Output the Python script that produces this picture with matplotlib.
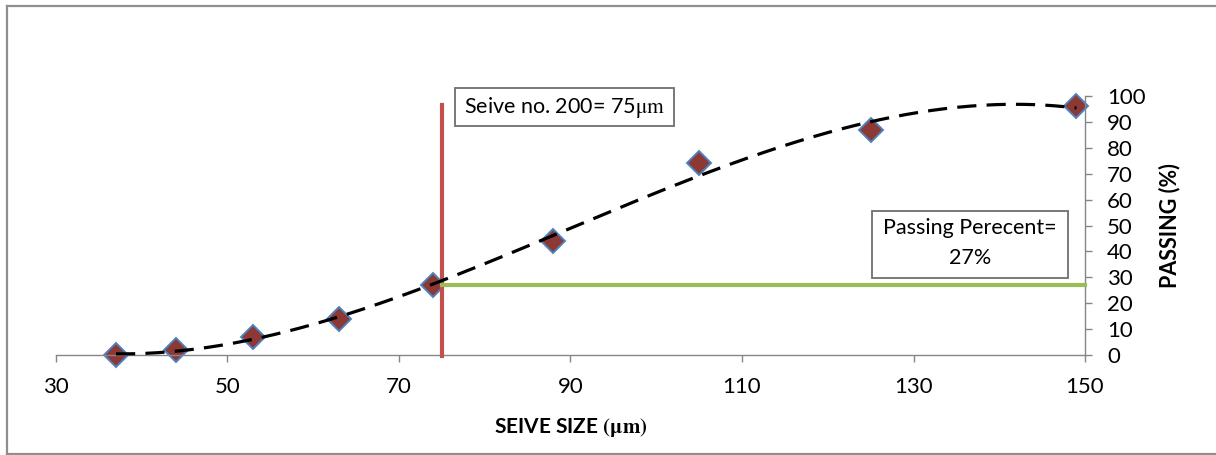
"""Sieve analysis chart: passing percent against sieve size, with No. 200 marker."""

import matplotlib

matplotlib.use("Agg")

import matplotlib.pyplot as plt
import numpy as np
from matplotlib.lines import Line2D
from matplotlib.patches import Rectangle

# sieve sizes (um) and passing percent
sieve_size = [37, 44, 53, 63, 74, 88, 105, 125, 149]
passing = [0, 2, 7, 14, 27, 44, 74, 87, 96]

# No. 200 sieve guide line and passing-percent guide line
sieve200_x = [75, 75]
sieve200_y = [-0.5, 96.5]
passing_x = [75, 150]
passing_y = [27, 27]

x_ticks = [30, 50, 70, 90, 110, 130, 150]
y_ticks = [0, 10, 20, 30, 40, 50, 60, 70, 80, 90, 100]

FIG_W, FIG_H = 1216, 455
AXIS_GREY = "#868686"

plt.rcParams["font.family"] = ["Lato", "DejaVu Sans"]
plt.rcParams["mathtext.fontset"] = "stix"


def px_rect(left, top, right, bottom):
    """Convert a pixel box (from the top-left) to figure fractions."""
    return (left / FIG_W, 1 - bottom / FIG_H, (right - left) / FIG_W, (bottom - top) / FIG_H)


fig = plt.figure(figsize=(FIG_W / 100, FIG_H / 100), dpi=100)
ax = fig.add_axes([56 / FIG_W, 1 - 355 / FIG_H, 1029 / FIG_W, 259 / FIG_H])

# outer chart frame (right edge runs off the picture)
for xs, ys in (([7, 1230], [6, 6]), ([7, 7], [6, 454]), ([7, 1230], [454, 454])):
    fig.add_artist(
        Line2D(
            [x / FIG_W for x in xs],
            [1 - y / FIG_H for y in ys],
            transform=fig.transFigure,
            color="#8f8f8f",
            linewidth=1.6,
        )
    )

ax.plot(
    sieve_size,
    passing,
    linestyle="none",
    marker="D",
    markersize=12.5,
    markerfacecolor="#8c3834",
    markeredgecolor="#4f81bd",
    markeredgewidth=1.4,
    zorder=2,
    clip_on=False,
)

ax.plot(sieve200_x, sieve200_y, color="#c0504d", linewidth=3.0, zorder=3, clip_on=False)
ax.plot(passing_x, passing_y, color="#9bbb59", linewidth=3.0, zorder=3, clip_on=False)

# cubic trendline through the points, as in the spreadsheet chart
coeffs = np.polyfit(sieve_size, passing, 3)
trend_x = np.linspace(sieve_size[0], sieve_size[-1], 300)
ax.plot(
    trend_x,
    np.polyval(coeffs, trend_x),
    color="black",
    linewidth=2.3,
    linestyle=(0, (6.0, 3.2)),
    zorder=4,
    clip_on=False,
)

ax.set_xlim(30, 150)
ax.set_ylim(0, 100)
ax.set_xticks(x_ticks)
ax.set_yticks(y_ticks)

for side in ("top", "left"):
    ax.spines[side].set_visible(False)
for side in ("bottom", "right"):
    ax.spines[side].set_color(AXIS_GREY)
    ax.spines[side].set_linewidth(1.0)

ax.yaxis.tick_right()
ax.yaxis.set_label_position("right")
ax.tick_params(axis="both", colors=AXIS_GREY, length=5, width=1.0, labelsize=16, pad=11)
ax.tick_params(axis="both", labelcolor="black")

ax.set_xlabel(r"SEIVE SIZE $\mathbf{(\mu m)}$", fontsize=15, fontweight="bold")
ax.xaxis.label.set_va("center")
ax.xaxis.set_label_coords(0.5, -0.278)
ax.set_ylabel("PASSING (%)", fontsize=15.5, fontweight="bold")
ax.yaxis.label.set_va("center")
ax.yaxis.set_label_coords(1.0826, 0.5)

# annotation boxes
for box in (px_rect(455, 88, 674, 126), px_rect(872, 211, 1068, 278)):
    fig.add_artist(
        Rectangle(
            box[:2],
            box[2],
            box[3],
            transform=fig.transFigure,
            facecolor="white",
            edgecolor="#6e6e6e",
            linewidth=1.3,
            zorder=5,
        )
    )

fig.text(
    564.5 / FIG_W,
    1 - 107 / FIG_H,
    r"Seive no. 200= 75$\mathrm{\mu m}$",
    ha="center",
    va="center",
    fontsize=15.5,
    zorder=6,
)
fig.text(
    970 / FIG_W,
    1 - 243 / FIG_H,
    "Passing Perecent=\n27%",
    ha="center",
    va="center",
    fontsize=15.5,
    linespacing=1.6,
    zorder=6,
)

fig.savefig("out.png", dpi=100)
